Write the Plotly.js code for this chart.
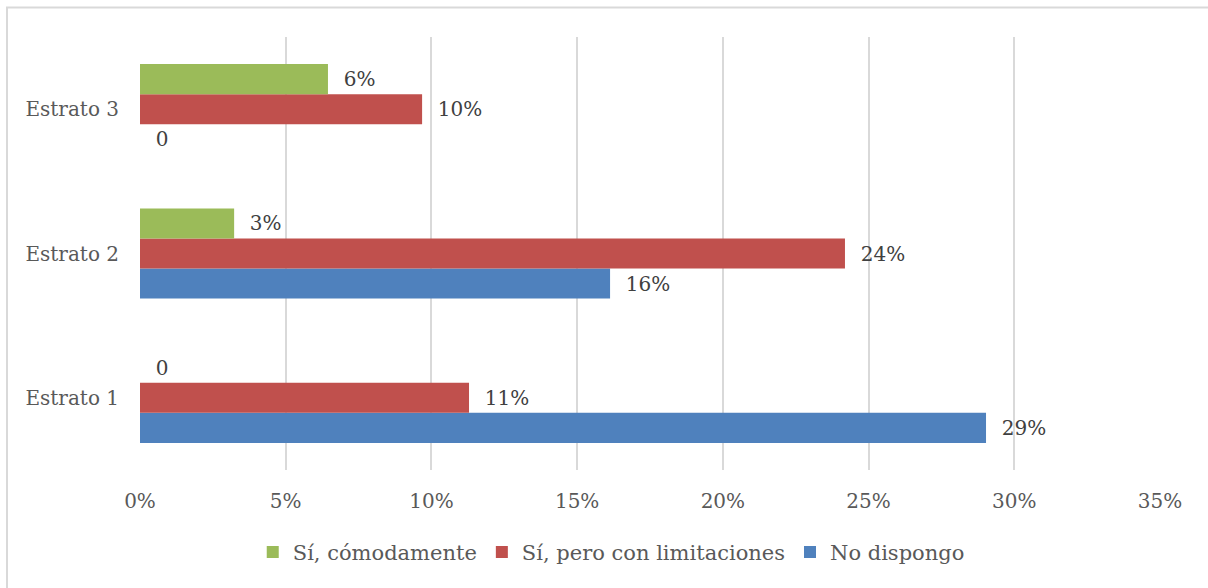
<!DOCTYPE html>
<html>
<head>
<meta charset="utf-8">
<script src="https://cdn.plot.ly/plotly-3.0.1.min.js"></script>
<style>html,body{margin:0;padding:0;background:#fff;}#chart{width:1208px;height:588px;}</style>
</head>
<body>
<div id="chart"></div>
<script>
const categories = ["Estrato 1", "Estrato 2", "Estrato 3"];
const seriesNames = ["No dispongo", "Sí, pero con limitaciones", "Sí, cómodamente"];
const noDispongo = [0.2903, 0.1613, 0];
const siLimitaciones = [0.1129, 0.2419, 0.0968];
const siComodamente = [0, 0.0323, 0.0645];
const xTickVals = [0, 0.05, 0.10, 0.15, 0.20, 0.25, 0.30, 0.35];
const xTickText = ["0%", "5%", "10%", "15%", "20%", "25%", "30%", "35%"];

const colors = ["#4F81BD", "#C0504D", "#9BBB59"];
const FONT = "DejaVu Serif, Liberation Serif, serif";
const pad = "\u00a0\u00a0";
function labels(vals) { return vals.map(v => pad + (v === 0 ? "0" : Math.round(v * 100) + "%")); }

const seriesValues = [noDispongo, siLimitaciones, siComodamente];
const traces = seriesValues.map((vals, i) => ({
  type: "bar",
  orientation: "h",
  name: seriesNames[i],
  x: vals,
  y: categories,
  text: labels(vals),
  textposition: "outside",
  cliponaxis: false,
  textfont: {family: FONT, size: 20, color: "#404040"},
  marker: {color: colors[i]},
  hoverinfo: "none"
}));

const layout = {
  width: 1208, height: 588,
  margin: {l: 140, r: 48, t: 37, b: 118},
  paper_bgcolor: "#fff", plot_bgcolor: "#fff",
  barmode: "group",
  bargap: 0.375,
  bargroupgap: 0,
  font: {family: FONT, size: 20, color: "#595959"},
  xaxis: {
    range: [0, 0.35],
    tickvals: xTickVals,
    ticktext: xTickText,
    showgrid: true, gridcolor: "#d9d9d9", gridwidth: 2,
    zeroline: false, showline: false,
    ticks: "", ticklabelstandoff: 17,
    tickfont: {family: FONT, size: 20, color: "#595959"},
    fixedrange: true
  },
  yaxis: {
    categoryorder: "array", categoryarray: categories,
    showgrid: false, zeroline: false, showline: false,
    ticks: "", ticklabelstandoff: 20,
    tickfont: {family: FONT, size: 20, color: "#595959"},
    fixedrange: true
  },
  showlegend: true,
  legend: {
    orientation: "h", traceorder: "reversed",
    x: 0.462, xanchor: "center", y: -0.19, yanchor: "middle",
    font: {family: FONT, size: 21, color: "#595959"},
    itemwidth: 30
  },
  shapes: [{
    type: "rect", xref: "paper", yref: "paper",
    x0: -0.1304, x1: 1.2, y0: -0.5, y1: 1.068,
    line: {color: "#d9d9d9", width: 2}, fillcolor: "rgba(0,0,0,0)", layer: "below"
  }]
};

Plotly.newPlot("chart", traces, layout, {displayModeBar: false, staticPlot: true});
</script>
</body>
</html>
